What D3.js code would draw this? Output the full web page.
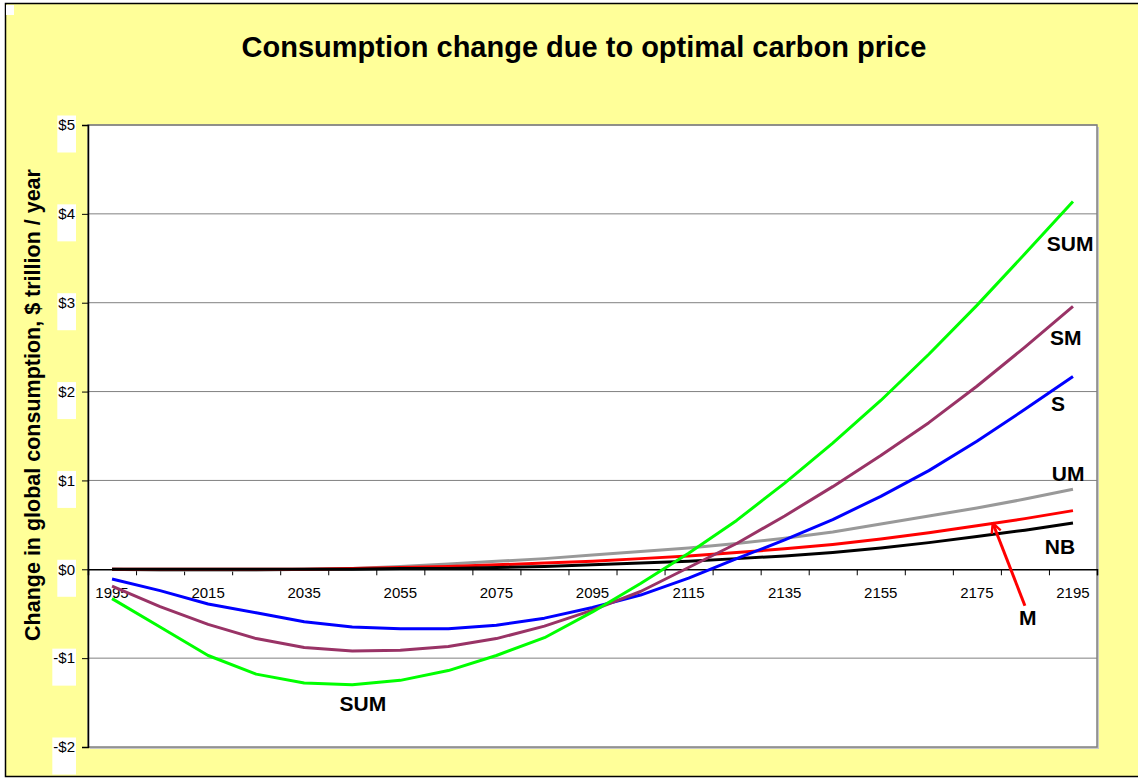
<!DOCTYPE html>
<html>
<head>
<meta charset="utf-8">
<script src="https://cdn.jsdelivr.net/npm/d3@7"></script>
<style>
  body { margin: 0; background: #fff; }
  text { font-family: Arial, "Liberation Sans", sans-serif; }
</style>
</head>
<body>
<script>
const svgWidth = 1138
const svgHeight = 778

const plot = { left: 88, right: 1097, top: 125, bottom: 747 }

// decades 1995..2195
const years = d3.range(1995, 2196, 10)
const yearLabels = d3.range(1995, 2196, 20)
const yTicks = [-2, -1, 0, 1, 2, 3, 4, 5]

// change in global consumption, $ trillion / year
const sumValues = [-0.33, -0.65, -0.97, -1.18, -1.28, -1.30, -1.25, -1.14, -0.97, -0.77, -0.48, -0.16, 0.18, 0.55, 0.97, 1.42, 1.90, 2.42, 2.97, 3.55, 4.14]
const smValues  = [-0.19, -0.42, -0.62, -0.78, -0.88, -0.92, -0.91, -0.87, -0.78, -0.64, -0.46, -0.25, 0.02, 0.29, 0.60, 0.93, 1.28, 1.65, 2.06, 2.50, 2.96]
const sValues   = [-0.11, -0.24, -0.39, -0.49, -0.59, -0.65, -0.67, -0.67, -0.63, -0.55, -0.43, -0.29, -0.10, 0.12, 0.33, 0.56, 0.82, 1.11, 1.44, 1.80, 2.17]
const umValues  = [0.00, -0.01, -0.01, -0.01, 0.00, 0.01, 0.03, 0.06, 0.09, 0.12, 0.16, 0.20, 0.24, 0.29, 0.35, 0.42, 0.51, 0.60, 0.69, 0.79, 0.90]
const mValues   = [0.00, 0.00, 0.00, 0.00, 0.00, 0.01, 0.02, 0.03, 0.05, 0.07, 0.09, 0.12, 0.15, 0.19, 0.23, 0.28, 0.34, 0.41, 0.49, 0.57, 0.66]
const nbValues  = [0.00, 0.00, 0.00, 0.00, 0.00, 0.00, 0.01, 0.01, 0.02, 0.03, 0.05, 0.07, 0.09, 0.12, 0.15, 0.19, 0.24, 0.30, 0.37, 0.44, 0.52]

// drawn back to front
const series = [
  { name: "UM", values: umValues, color: "#999999" },
  { name: "M", values: mValues, color: "#ff0000" },
  { name: "NB", values: nbValues, color: "#000000" },
  { name: "S", values: sValues, color: "#0000ff" },
  { name: "SM", values: smValues, color: "#993366" },
  { name: "SUM", values: sumValues, color: "#00ff00" }
]

// annotation labels: [text, year, value]
const labels = [
  ["SUM", 2194.4, 3.67],
  ["SM", 2193.5, 2.61],
  ["S", 2191.9, 1.87],
  ["UM", 2194.0, 1.08],
  ["NB", 2192.3, 0.26],
  ["M", 2185.6, -0.54],
  ["SUM", 2047.2, -1.51]
]
// arrow from the M label to the red line: [year, value]
const arrowFrom = [2185.0, -0.41]
const arrowTo = [2178.3, 0.52]

const x = d3.scaleLinear()
  .domain([1990, 2200])
  .range([plot.left, plot.right])

const y = d3.scaleLinear()
  .domain([-2, 5])
  .range([plot.bottom, plot.top])

const svg = d3.select("body").append("svg")
  .attr("width", svgWidth)
  .attr("height", svgHeight)

// chart background
svg.append("rect")
  .attr("x", 5.5).attr("y", 3.5)
  .attr("width", svgWidth).attr("height", 773)
  .attr("fill", "#ffff99")
  .attr("stroke", "#000")
  .attr("stroke-width", 1.5)

svg.append("rect")
  .attr("x", 6).attr("y", 5).attr("width", 8).attr("height", 10)
  .attr("fill", "#fff")

svg.append("text")
  .attr("x", 584).attr("y", 57)
  .attr("text-anchor", "middle")
  .attr("font-size", 29)
  .attr("font-weight", "bold")
  .text("Consumption change due to optimal carbon price")

// plot area with shadow
svg.append("rect")
  .attr("x", plot.left + 2).attr("y", plot.top + 2)
  .attr("width", plot.right - plot.left).attr("height", plot.bottom - plot.top)
  .attr("fill", "#c8c8c8")
svg.append("rect")
  .attr("x", plot.left).attr("y", plot.top)
  .attr("width", plot.right - plot.left).attr("height", plot.bottom - plot.top)
  .attr("fill", "#fff")
  .attr("stroke", "#808080")
  .attr("stroke-width", 1.5)

// gridlines
svg.append("g")
  .selectAll("line")
  .data(yTicks.filter(d => d !== 0 && d !== -2))
  .enter()
  .append("line")
  .attr("x1", plot.left).attr("x2", plot.right)
  .attr("y1", d => y(d)).attr("y2", d => y(d))
  .attr("stroke", "#808080")
  .attr("stroke-width", 1)

// y axis
const fmt = d => d < 0 ? "-$" + (-d) : "$" + d
const yAxisG = svg.append("g")
  .attr("transform", `translate(${plot.left}, 0)`)
  .call(d3.axisLeft(y).tickValues(yTicks).tickSize(6).tickPadding(7).tickFormat(fmt))
yAxisG.select(".domain").attr("stroke", "#000").attr("stroke-width", 1.5)
yAxisG.selectAll(".tick line").attr("stroke", "#000")
yAxisG.selectAll(".tick text")
  .attr("font-size", 15)
  .attr("fill", "#000")
  .style("font-family", "Arial, 'Liberation Sans', sans-serif")
// white boxes behind the tick labels
yAxisG.selectAll(".tick").each(function() {
  const t = d3.select(this).select("text")
  const b = t.node().getBBox()
  d3.select(this).insert("rect", "text")
    .attr("x", b.x - 1).attr("y", -10)
    .attr("width", b.width + 2).attr("height", 37)
    .attr("fill", "#fff")
})

// x axis along zero
const xAxisG = svg.append("g")
  .attr("transform", `translate(0, ${y(0)})`)
  .call(d3.axisBottom(x).tickValues(d3.range(1990, 2201, 10)).tickSize(6).tickFormat(""))
xAxisG.select(".domain").attr("stroke", "#000").attr("stroke-width", 1.5)
xAxisG.selectAll(".tick line").attr("stroke", "#000")

svg.append("g")
  .selectAll("text")
  .data(yearLabels)
  .enter()
  .append("text")
  .attr("x", d => x(d))
  .attr("y", y(0) + 29)
  .attr("text-anchor", "middle")
  .attr("font-size", 15)
  .text(d => d)

// series lines
const line = d3.line()
  .x((d, i) => x(years[i]))
  .y(d => y(d))

svg.append("g")
  .selectAll("path")
  .data(series)
  .enter()
  .append("path")
  .attr("d", d => line(d.values))
  .attr("fill", "none")
  .attr("stroke", d => d.color)
  .attr("stroke-width", 3)
  .attr("stroke-linejoin", "round")

// labels
svg.append("g")
  .selectAll("text")
  .data(labels)
  .enter()
  .append("text")
  .attr("x", d => x(d[1]))
  .attr("y", d => y(d[2]))
  .attr("dy", "0.36em")
  .attr("text-anchor", "middle")
  .attr("font-size", 21)
  .attr("font-weight", "bold")
  .text(d => d[0])

// arrow
svg.append("defs").append("marker")
  .attr("id", "head")
  .attr("viewBox", "0 0 10 10")
  .attr("refX", 9).attr("refY", 5)
  .attr("markerWidth", 4).attr("markerHeight", 4)
  .attr("orient", "auto")
  .append("path")
  .attr("d", "M1,1 L9,5 L1,9")
  .attr("fill", "none")
  .attr("stroke", "#ff0000")
  .attr("stroke-width", 2)

svg.append("line")
  .attr("x1", x(arrowFrom[0])).attr("y1", y(arrowFrom[1]))
  .attr("x2", x(arrowTo[0])).attr("y2", y(arrowTo[1]))
  .attr("stroke", "#ff0000")
  .attr("stroke-width", 3)
  .attr("marker-end", "url(#head)")

// y axis title
svg.append("text")
  .attr("transform", "translate(40, 405) rotate(-90)")
  .attr("text-anchor", "middle")
  .attr("font-size", 21.5)
  .attr("font-weight", "bold")
  .text("Change in global consumption, $ trillion / year")
</script>
</body>
</html>
